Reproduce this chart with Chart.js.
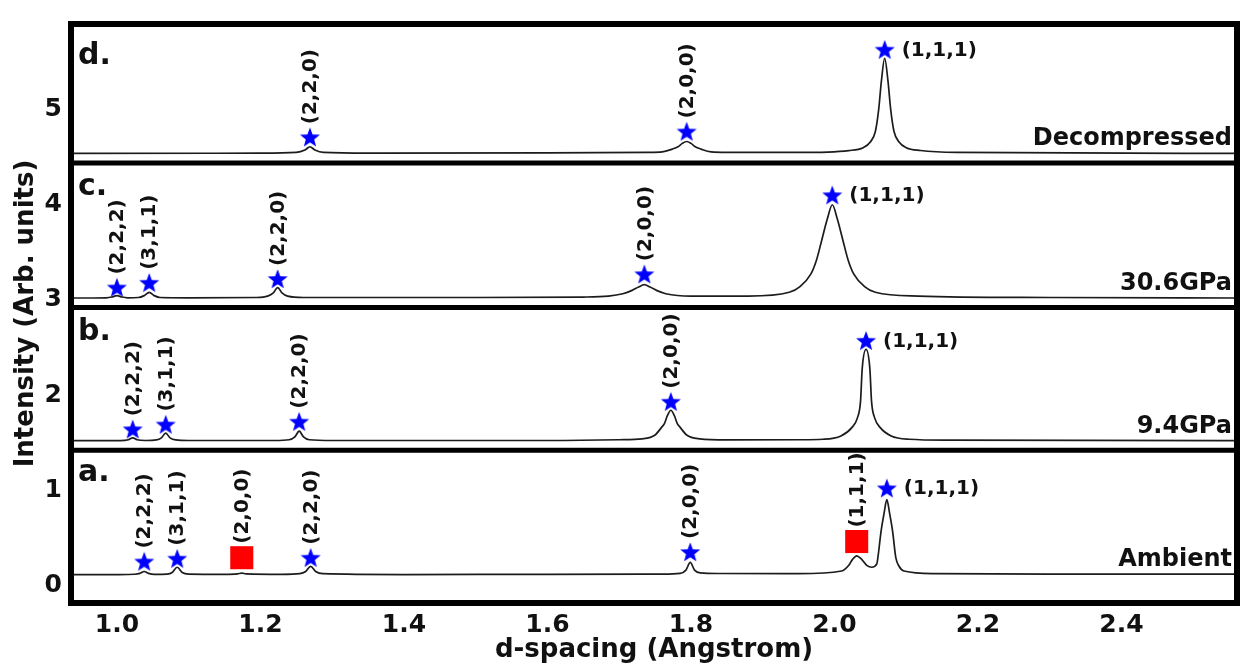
<!DOCTYPE html>
<html>
<head>
<meta charset="utf-8">
<script src="https://cdn.jsdelivr.net/npm/chart.js@4.4.1/dist/chart.umd.min.js"></script>
<style>
  html, body { margin: 0; padding: 0; background: #fff; }
  #wrap { width: 1256px; height: 672px; position: relative; }
</style>
</head>
<body>
<div id="wrap"><canvas id="xrd"></canvas></div>
<script>
// XRD patterns at four pressures, stacked with vertical offsets

// ===== DATA =====
const xTicks = [1.0, 1.2, 1.4, 1.6, 1.8, 2.0, 2.2, 2.4];
const yTicks = [0, 1, 2, 3, 4, 5];

const panelLetters = ['a.', 'b.', 'c.', 'd.'];
const panelNames = ['Ambient', '9.4GPa', '30.6GPa', 'Decompressed'];
const panelDividers = [1.42, 2.92, 4.44];

// a. Ambient
const ambientX = [0.936, 1.000, 1.025, 1.032, 1.038, 1.044, 1.052, 1.070, 1.077, 1.084, 1.091, 1.100,
  1.150, 1.168, 1.174, 1.180, 1.230, 1.255, 1.263, 1.270, 1.277, 1.287, 1.400, 1.600, 1.760,
  1.785, 1.793, 1.799, 1.805, 1.813, 1.840, 1.950, 2.010, 2.020, 2.025, 2.031, 2.037, 2.045,
  2.052, 2.059, 2.0605, 2.065, 2.069, 2.073, 2.077, 2.081, 2.0855, 2.090, 2.097, 2.140, 2.300, 2.560];
const ambientY = [0.112, 0.113, 0.116, 0.125, 0.145, 0.125, 0.115, 0.118, 0.135, 0.190, 0.135, 0.118,
  0.115, 0.120, 0.128, 0.120, 0.115, 0.122, 0.145, 0.200, 0.145, 0.122, 0.113, 0.115, 0.117,
  0.125, 0.160, 0.240, 0.160, 0.130, 0.124, 0.122, 0.150, 0.210, 0.270, 0.310, 0.280, 0.210,
  0.190, 0.225, 0.290, 0.570, 0.750, 0.900, 0.750, 0.570, 0.290, 0.200, 0.150, 0.122, 0.117, 0.117];

// b. 9.4 GPa
const gpa94X = [0.936, 1.005, 1.016, 1.022, 1.028, 1.040, 1.055, 1.062, 1.068, 1.074, 1.082, 1.100,
  1.220, 1.240, 1.248, 1.254, 1.260, 1.268, 1.300, 1.600, 1.700, 1.732, 1.750, 1.759, 1.763,
  1.767, 1.772, 1.777, 1.781, 1.785, 1.794, 1.812, 1.850, 1.950, 1.984, 2.009, 2.0245, 2.032,
  2.0363, 2.0387, 2.044, 2.0493, 2.0517, 2.056, 2.0635, 2.079, 2.104, 2.160, 2.560];
const gpa94Y = [1.520, 1.521, 1.530, 1.550, 1.530, 1.522, 1.528, 1.550, 1.600, 1.550, 1.528, 1.522,
  1.522, 1.530, 1.560, 1.620, 1.560, 1.530, 1.522, 1.522, 1.530, 1.540, 1.580, 1.660, 1.700,
  1.780, 1.840, 1.780, 1.700, 1.660, 1.580, 1.540, 1.528, 1.530, 1.535, 1.570, 1.660, 1.760,
  1.930, 2.280, 2.480, 2.280, 1.930, 1.760, 1.660, 1.570, 1.535, 1.525, 1.520];

// c. 30.6 GPa
const gpa306X = [0.936, 0.985, 0.993, 1.000, 1.007, 1.015, 1.030, 1.038, 1.045, 1.052, 1.060, 1.100,
  1.195, 1.210, 1.218, 1.224, 1.230, 1.238, 1.260, 1.500, 1.650, 1.685, 1.705, 1.718, 1.727,
  1.735, 1.743, 1.752, 1.765, 1.800, 1.880, 1.937, 1.952, 1.967, 1.975, 1.982, 1.990, 1.997,
  2.004, 2.012, 2.019, 2.027, 2.042, 2.057, 2.117, 2.300, 2.560];
const gpa306Y = [3.020, 3.022, 3.030, 3.045, 3.030, 3.022, 3.025, 3.045, 3.080, 3.045, 3.025, 3.022,
  3.025, 3.040, 3.075, 3.130, 3.075, 3.040, 3.025, 3.025, 3.030, 3.040, 3.065, 3.100, 3.135,
  3.160, 3.135, 3.100, 3.065, 3.040, 3.040, 3.080, 3.140, 3.270, 3.420, 3.620, 3.850, 4.000,
  3.850, 3.620, 3.420, 3.270, 3.140, 3.080, 3.040, 3.025, 3.020];

// d. Decompressed
const decompX = [0.936, 1.200, 1.250, 1.262, 1.269, 1.276, 1.288, 1.350, 1.600, 1.740, 1.760, 1.774,
  1.782, 1.788, 1.794, 1.800, 1.806, 1.814, 1.828, 1.850, 1.950, 2.020, 2.040, 2.050, 2.057,
  2.0616, 2.0654, 2.070, 2.0746, 2.0784, 2.083, 2.090, 2.100, 2.120, 2.170, 2.560];
const decompY = [4.540, 4.542, 4.550, 4.575, 4.610, 4.575, 4.550, 4.542, 4.545, 4.550, 4.555, 4.585,
  4.610, 4.645, 4.665, 4.645, 4.610, 4.585, 4.555, 4.550, 4.550, 4.570, 4.600, 4.660, 4.770,
  5.000, 5.300, 5.540, 5.300, 5.000, 4.770, 4.660, 4.600, 4.570, 4.550, 4.540];

// blue stars (sample phase)
const starX = [1.038, 1.084, 1.270, 1.799, 2.073,
  1.022, 1.068, 1.254, 1.772, 2.044,
  1.000, 1.045, 1.224, 1.735, 1.997,
  1.269, 1.794, 2.070];
const starY = [0.25, 0.28, 0.29, 0.35, 1.02,
  1.64, 1.69, 1.72, 1.93, 2.57,
  3.13, 3.18, 3.22, 3.27, 4.10,
  4.71, 4.77, 5.63];
const starHkl = ['(2,2,2)', '(3,1,1)', '(2,2,0)', '(2,0,0)', '(1,1,1)',
  '(2,2,2)', '(3,1,1)', '(2,2,0)', '(2,0,0)', '(1,1,1)',
  '(2,2,2)', '(3,1,1)', '(2,2,0)', '(2,0,0)', '(1,1,1)',
  '(2,2,0)', '(2,0,0)', '(1,1,1)'];

// red squares (second phase, ambient only)
const squareX = [1.174, 2.031];
const squareY = [0.29, 0.46];
const squareHkl = ['(2,0,0)', '(1,1,1)'];

// ===== HELPERS =====
const FONT = 'DejaVu Sans';
const pts = (xs, ys) => xs.map((v, i) => ({ x: v, y: ys[i] }));

function makeStar(size, color) {
  const c = document.createElement('canvas');
  c.width = size; c.height = size;
  const g = c.getContext('2d');
  const cx = size / 2, cy = size / 2 + 0.8, R = size / 2 - 0.5, r = R * 0.42;
  g.beginPath();
  for (let i = 0; i < 10; i++) {
    const rad = i % 2 === 0 ? R : r;
    const ang = -Math.PI / 2 + i * Math.PI / 5;
    const px = cx + rad * Math.cos(ang), py = cy + rad * Math.sin(ang);
    if (i === 0) g.moveTo(px, py); else g.lineTo(px, py);
  }
  g.closePath();
  g.fillStyle = color;
  g.fill();
  return c;
}

const starImg = makeStar(22, '#0000ff');

function spectrum(xs, ys) {
  return {
    data: pts(xs, ys),
    showLine: true,
    borderColor: '#1c1c1c',
    borderWidth: 1.7,
    pointRadius: 0,
    cubicInterpolationMode: 'monotone',
    fill: false,
  };
}

// ===== ANNOTATIONS =====
const panelPlugin = {
  id: 'panels',
  afterDatasetsDraw(chart) {
    const { ctx, chartArea: area, scales: { x, y } } = chart;
    ctx.save();
    ctx.strokeStyle = '#000';

    // dividers + frame
    ctx.lineWidth = 5;
    for (const v of panelDividers) {
      const py = y.getPixelForValue(v);
      ctx.beginPath();
      ctx.moveTo(area.left, py);
      ctx.lineTo(area.right, py);
      ctx.stroke();
    }
    ctx.lineWidth = 6;
    ctx.strokeRect(area.left, area.top, area.right - area.left, area.bottom - area.top);

    // panel letters (top-left of each panel)
    const tops = [...panelDividers.map(v => y.getPixelForValue(v)), area.top];
    const letterOffset = [31, 32, 32, 40];
    ctx.fillStyle = '#111';
    ctx.font = `bold 30px "${FONT}"`;
    ctx.textAlign = 'left';
    ctx.textBaseline = 'alphabetic';
    panelLetters.forEach((t, i) => ctx.fillText(t, area.left + 7, tops[i] + letterOffset[i]));

    // condition names, right aligned just above each baseline
    const lastY = [ambientY, gpa94Y, gpa306Y, decompY].map(a => a[a.length - 1]);
    ctx.font = `bold 24px "${FONT}"`;
    ctx.textAlign = 'right';
    panelNames.forEach((t, i) => ctx.fillText(t, area.right - 5, y.getPixelForValue(lastY[i]) - 8));

    // Miller indices
    ctx.font = `bold 20px "${FONT}"`;
    const vertical = (t, px, py) => {
      ctx.save();
      ctx.translate(px, py);
      ctx.rotate(-Math.PI / 2);
      ctx.textAlign = 'left';
      ctx.textBaseline = 'middle';
      ctx.fillText(t, 0, 0);
      ctx.restore();
    };
    starHkl.forEach((t, i) => {
      const px = x.getPixelForValue(starX[i]);
      const py = y.getPixelForValue(starY[i]);
      if (t === '(1,1,1)') {
        ctx.textAlign = 'left';
        ctx.textBaseline = 'middle';
        ctx.fillText(t, px + 17, py + 1);
      } else {
        vertical(t, px + 1, py - 13);
      }
    });
    squareHkl.forEach((t, i) => {
      vertical(t, x.getPixelForValue(squareX[i]) + 1, y.getPixelForValue(squareY[i]) - 14);
    });
    ctx.restore();
  }
};

// ===== CHART =====
const tickFont = { family: FONT, size: 25, weight: 'bold' };
const titleFont = { family: FONT, size: 26, weight: 'bold' };

new Chart(document.getElementById('xrd'), {
  type: 'scatter',
  data: {
    datasets: [
      spectrum(ambientX, ambientY),
      spectrum(gpa94X, gpa94Y),
      spectrum(gpa306X, gpa306Y),
      spectrum(decompX, decompY),
      {
        data: pts(starX, starY),
        pointStyle: starImg,
        pointRadius: 11,
        showLine: false,
      },
      {
        data: pts(squareX, squareY),
        pointStyle: 'rect',
        pointRadius: 16.3,
        backgroundColor: '#ff0000',
        borderColor: '#ff0000',
        borderWidth: 0,
        showLine: false,
      },
    ],
  },
  options: {
    responsive: true,
    maintainAspectRatio: false,
    animation: false,
    layout: { padding: { top: 13, right: 19, left: 0, bottom: 0 } },
    plugins: {
      legend: { display: false },
      tooltip: { enabled: false },
    },
    scales: {
      x: {
        type: 'linear',
        min: 0.936,
        max: 2.561,
        grid: { display: false, drawTicks: false },
        border: { display: false },
        afterBuildTicks: s => { s.ticks = xTicks.map(v => ({ value: v })); },
        afterFit: s => { s.height = 69; },
        ticks: {
          color: '#111',
          font: tickFont,
          padding: 7,
          maxRotation: 0,
          callback: v => Number(v).toFixed(1),
        },
        title: {
          display: true,
          text: 'd-spacing (Angstrom)',
          color: '#111',
          font: titleFont,
          padding: { top: 0, bottom: 6 },
        },
      },
      y: {
        type: 'linear',
        min: -0.186,
        max: 5.9,
        grid: { display: false, drawTicks: false },
        border: { display: false },
        afterBuildTicks: s => { s.ticks = yTicks.map(v => ({ value: v })); },
        afterFit: s => { s.width = 71; },
        ticks: {
          color: '#111',
          font: tickFont,
          padding: 9,
          callback: v => String(v),
        },
        title: {
          display: true,
          text: 'Intensity (Arb. units)',
          color: '#111',
          font: titleFont,
          padding: { top: 11, bottom: 0 },
        },
      },
    },
  },
  plugins: [panelPlugin],
});
</script>
</body>
</html>
